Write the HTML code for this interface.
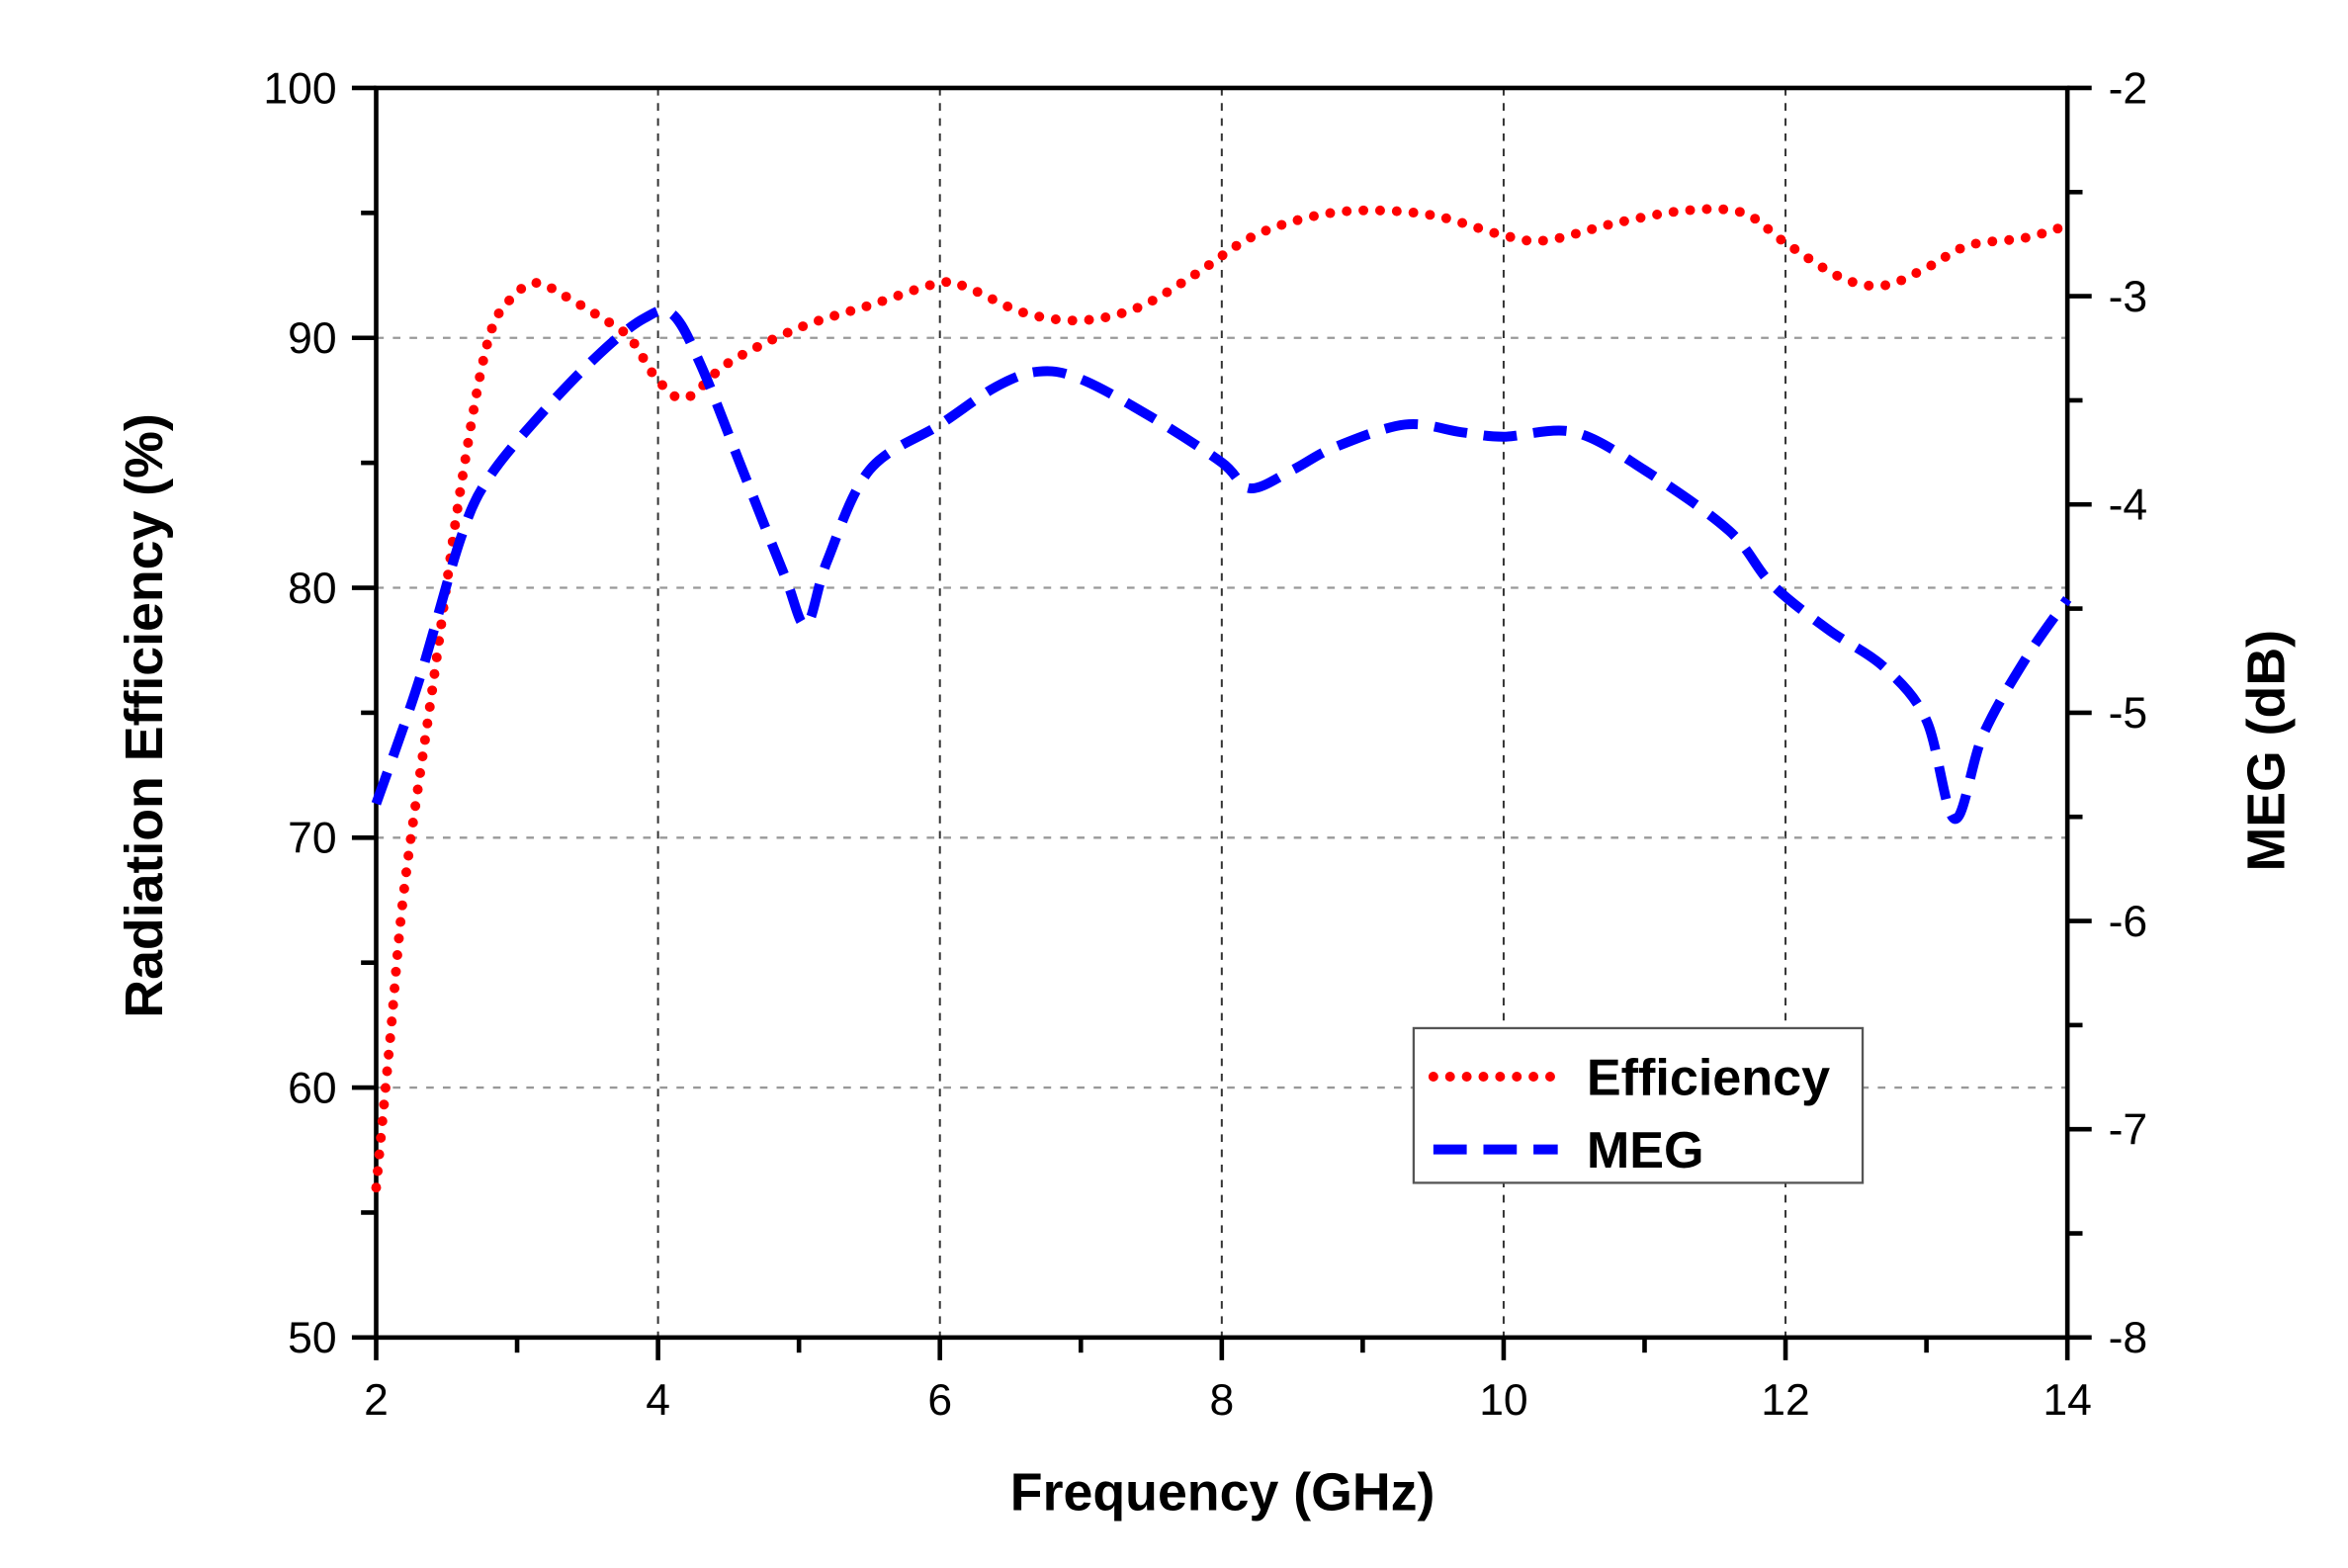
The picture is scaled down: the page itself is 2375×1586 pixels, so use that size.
<!DOCTYPE html>
<html><head><meta charset="utf-8"><style>html,body{margin:0;padding:0;background:#fff}svg{display:block}</style></head>
<body>
<svg id="s" width="2375" height="1586" viewBox="0 0 1548 1034" preserveAspectRatio="none" xmlns="http://www.w3.org/2000/svg" font-family="Liberation Sans, Arial, sans-serif">
<rect width="1548" height="1034" fill="#fff"/>
<g id="grid"></g>
<g id="axes" stroke="#000" stroke-width="3" fill="none">
<rect x="248" y="58" width="1115" height="824"/>
</g>
<g id="ticks" stroke="#000" stroke-width="3"></g>
<g id="labels" font-size="29" fill="#000"></g>
<path id="eff" fill="none" stroke="#ff0000" stroke-width="6.5" stroke-linecap="round" stroke-dasharray="0 11"/>
<path id="meg" fill="none" stroke="#0000ff" stroke-width="6.5" stroke-dasharray="22 11"/>
<text x="806" y="996" font-size="35" font-weight="bold" text-anchor="middle">Frequency (GHz)</text>
<text transform="translate(107,472) rotate(-90)" font-size="35" font-weight="bold" text-anchor="middle">Radiation Efficiency (%)</text>
<text transform="translate(1506,495) rotate(-90)" font-size="35" font-weight="bold" text-anchor="middle">MEG (dB)</text>
<rect x="932" y="678" width="296" height="102" fill="#fff" stroke="#555" stroke-width="1.5"/>
<line x1="945" y1="710" x2="1027" y2="710" stroke="#ff0000" stroke-width="6.5" stroke-linecap="round" stroke-dasharray="0 11"/>
<line x1="945" y1="758" x2="1027" y2="758" stroke="#0000ff" stroke-width="6.5" stroke-dasharray="22 11"/>
<text x="1046" y="722" font-size="34" font-weight="bold">Efficiency</text>
<text x="1046" y="770" font-size="34" font-weight="bold">MEG</text>
</svg>
<script>
var NS="http://www.w3.org/2000/svg";
function X(g){return 248+(g-2)*(1115/12);}
function YL(v){return 58+(100-v)*16.48;}
function el(p,t,a,txt){var e=document.createElementNS(NS,t);for(var k in a)e.setAttribute(k,a[k]);if(txt!==undefined)e.textContent=txt;document.getElementById(p).appendChild(e);}
for(var g=4;g<=12;g+=2)el("grid","line",{x1:X(g),x2:X(g),y1:58,y2:882,stroke:"#333","stroke-width":1.3,"stroke-dasharray":"5 5"});
for(var v=60;v<=90;v+=10)el("grid","line",{x1:248,x2:1363,y1:YL(v),y2:YL(v),stroke:"#999","stroke-width":1.5,"stroke-dasharray":"5 6"});
for(var g=2;g<=14;g+=1){var maj=(g%2==0);el("ticks","line",{x1:X(g),x2:X(g),y1:882,y2:882+(maj?15:10)});if(maj)el("labels","text",{x:X(g),y:933,"text-anchor":"middle"},g);}
for(var v=50;v<=100;v+=5){var maj=(v%10==0);el("ticks","line",{x1:248,x2:248-(maj?16:10),y1:YL(v),y2:YL(v)});if(maj)el("labels","text",{x:222,y:YL(v)+10,"text-anchor":"end"},v);}
for(var d=-8;d<=-2;d+=0.5){var y=58+(-2-d)*(824/6);var maj=(d%1==0);el("ticks","line",{x1:1363,x2:1363+(maj?16:10),y1:y,y2:y});if(maj)el("labels","text",{x:1390,y:y+10},d);}
function smooth(pts){var d="M"+pts[0][0]+","+pts[0][1];for(var i=0;i<pts.length-1;i++){var p0=pts[Math.max(0,i-1)],p1=pts[i],p2=pts[i+1],p3=pts[Math.min(pts.length-1,i+2)];var c1x=p1[0]+(p2[0]-p0[0])/6,c1y=p1[1]+(p2[1]-p0[1])/6,c2x=p2[0]-(p3[0]-p1[0])/6,c2y=p2[1]-(p3[1]-p1[1])/6;d+=" C"+c1x+","+c1y+" "+c2x+","+c2y+" "+p2[0]+","+p2[1];}return d;}
var E=[[2,56],[2.1,62],[2.2,68],[2.4,76],[2.6,84],[2.8,90],[3.0,91.8],[3.15,92.2],[3.3,91.8],[3.6,90.8],[3.8,90],[4.0,88.3],[4.2,87.6],[4.5,89],[5.0,90.4],[5.5,91.3],[6.0,92.2],[6.2,92],[6.6,91],[7.0,90.7],[7.4,91.2],[7.8,92.5],[8.2,94],[8.6,94.8],[9.0,95.1],[9.5,94.9],[10.0,94.1],[10.3,93.9],[10.8,94.6],[11.3,95.1],[11.7,95],[12.0,93.8],[12.4,92.4],[12.7,92.1],[13.0,92.8],[13.3,93.7],[13.7,94],[14,94.5]];
document.getElementById("eff").setAttribute("d",smooth(E.map(function(p){return [X(p[0]),YL(p[1])];})));
var M=[[2,530],[2.3,450],[2.6,355],[2.8,315],[3.2,270],[3.6,232],[3.9,210],[4.1,207],[4.3,240],[4.6,310],[4.9,380],[5.05,412],[5.2,370],[5.5,310],[6.0,280],[6.4,255],[6.7,245],[7.0,250],[7.5,275],[8.0,305],[8.2,322],[8.5,310],[8.8,295],[9.3,280],[9.7,285],[10.0,288],[10.5,285],[11.0,310],[11.6,350],[11.9,385],[12.3,415],[12.7,440],[13.0,475],[13.2,540],[13.4,485],[13.7,435],[14,395]];
document.getElementById("meg").setAttribute("d",smooth(M.map(function(p){return [X(p[0]),p[1]];})));
</script>
</body></html>
